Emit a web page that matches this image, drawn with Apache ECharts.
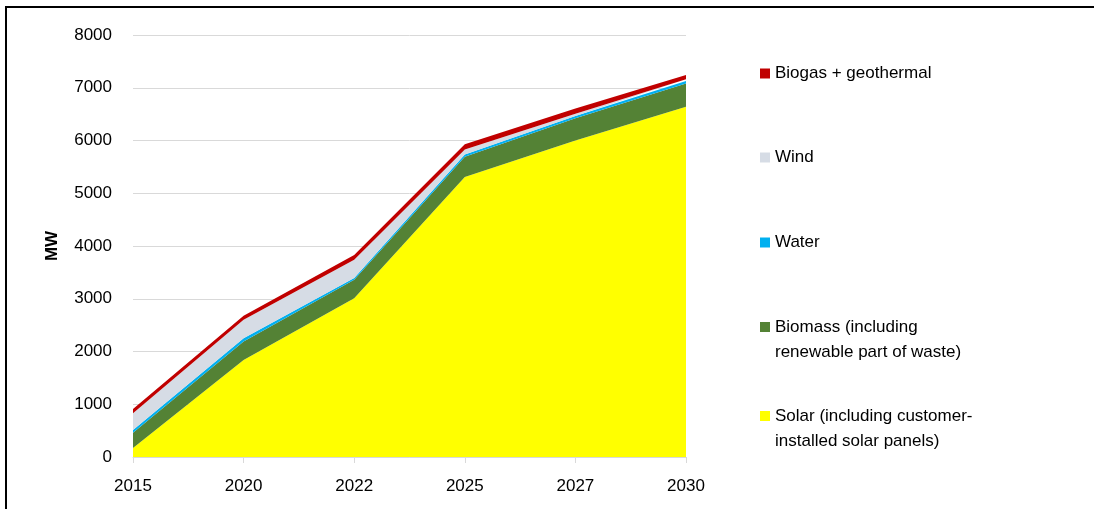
<!DOCTYPE html>
<html>
<head>
<meta charset="utf-8">
<script src="https://cdn.jsdelivr.net/npm/echarts@6/dist/echarts.min.js"></script>
<style>
  html, body { margin: 0; padding: 0; background: #fff; }
  #chart { width: 1094px; height: 509px; }
</style>
</head>
<body>
<div id="chart"></div>
<script>
// data (MW)
const years = ["2015", "2020", "2022", "2025", "2027", "2030"];
const solar = [170, 1840, 3010, 5310, 6000, 6640];
const biomass = [290, 350, 350, 380, 420, 440];
const water = [50, 60, 35, 45, 45, 50];
const wind = [320, 350, 345, 95, 40, 30];
const biogas = [80, 80, 90, 100, 100, 80];
const yTicks = [0, 1000, 2000, 3000, 4000, 5000, 6000, 7000, 8000];

const names = {
    solar: "Solar (including customer-\ninstalled solar panels)",
    biomass: "Biomass (including\nrenewable part of waste)",
    water: "Water",
    wind: "Wind",
    biogas: "Biogas + geothermal"
};

const font = "'Liberation Sans', Arial, sans-serif";
// tall icon with the square at the top, so it sits on the first line of two
const tallIcon = "path://M0,0H10V10H0Z M0,35.9H0.1V36H0Z";

function legendItem(name, top, twoLines) {
    return {
        data: [name],
        left: 760,
        top: top,
        padding: 0,
        orient: "vertical",
        icon: twoLines ? tallIcon : "rect",
        itemWidth: 10,
        itemHeight: twoLines ? 36 : 10,
        itemGap: 5,
        selectedMode: false,
        textStyle: { fontFamily: font, fontSize: 17, color: "#000", lineHeight: 25 }
    };
}

function area(name, data, color) {
    return {
        name: name,
        type: "line",
        stack: "total",
        data: data,
        symbol: "none",
        lineStyle: { width: 0 },
        itemStyle: { color: color },
        areaStyle: { color: color, opacity: 1 }
    };
}

const chart = echarts.init(document.getElementById("chart"));
chart.setOption({
    animation: false,
    grid: { left: 133, right: 408, top: 35, bottom: 52 },
    legend: [
        legendItem(names.biogas, 61, false),
        legendItem(names.wind, 145, false),
        legendItem(names.water, 230, false),
        legendItem(names.biomass, 315, true),
        legendItem(names.solar, 404, true)
    ],
    xAxis: {
        type: "category",
        data: years,
        boundaryGap: false,
        axisLine: { lineStyle: { color: "#d9d9d9", width: 1 } },
        axisTick: { show: true, length: 6, lineStyle: { color: "#d9d9d9" } },
        axisLabel: { fontFamily: font, fontSize: 17, color: "#000", margin: 21 }
    },
    yAxis: {
        type: "value",
        min: yTicks[0],
        max: yTicks[yTicks.length - 1],
        interval: 1000,
        name: "MW",
        nameLocation: "middle",
        nameRotate: 90,
        nameGap: 72,
        nameTextStyle: { fontFamily: font, fontSize: 17, fontWeight: "bold", color: "#000" },
        axisLine: { show: false },
        axisTick: { show: false },
        axisLabel: { fontFamily: font, fontSize: 17, color: "#000", margin: 21, formatter: (v) => String(v) },
        splitLine: { lineStyle: { color: "#d9d9d9", width: 1 } }
    },
    series: [
        area(names.solar, solar, "#ffff00"),
        area(names.biomass, biomass, "#548235"),
        area(names.water, water, "#00b0f0"),
        area(names.wind, wind, "#d6dce5"),
        area(names.biogas, biogas, "#c00000")
    ],
    graphic: [{
        type: "rect",
        shape: { x: 6, y: 7, width: 1100, height: 520 },
        style: { fill: null, stroke: "#000", lineWidth: 2 },
        silent: true
    }]
});
</script>
</body>
</html>
